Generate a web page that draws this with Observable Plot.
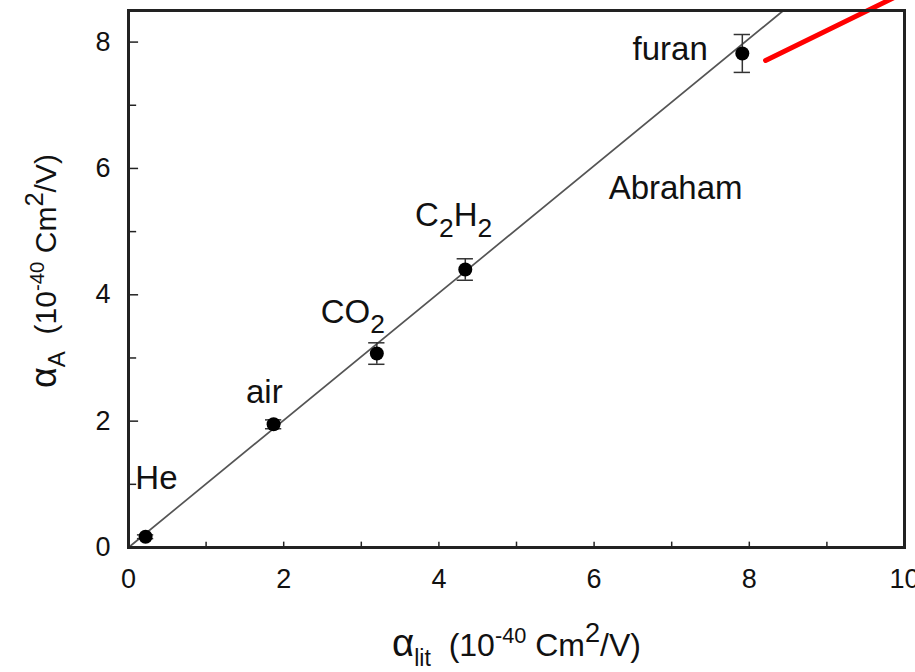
<!DOCTYPE html>
<html><head><meta charset="utf-8">
<script src="https://cdn.jsdelivr.net/npm/d3@7"></script>
<script src="https://cdn.jsdelivr.net/npm/@observablehq/plot@0.6"></script>
<style>
body{margin:0;background:#fff}
svg{font-family:"Liberation Sans",Arial,sans-serif}
</style>
</head><body><div id="chart"></div>
<script>
// measured species
const species = ["He", "air", "CO_{2}", "C_{2}H_{2}", "furan"];
const alphaLit = [0.22, 1.87, 3.20, 4.34, 7.91];
const alphaA = [0.17, 1.95, 3.07, 4.40, 7.82];
const alphaErr = [0.03, 0.07, 0.17, 0.17, 0.30];
const labelX = [0.36, 1.75, 2.89, 4.19, 6.98];
const labelY = [0.92, 2.29, 3.56, 5.09, 7.71];
// Abraham fit line
const fitX = [0, 8.44];
const fitY = [0, 8.5];
const fitName = ["Abraham"];
const fitNameX = [7.05];
const fitNameY = [5.52];
// red pointer
const pointerX = [8.21, 9.86];
const pointerY = [7.71, 8.70];
// ticks
const xMajor = [0, 2, 4, 6, 8, 10];
const xMinor = [1, 3, 5, 7, 9];
const yMajor = [0, 2, 4, 6, 8];
const yMinor = [1, 3, 5, 7];
const xTitle = ["α_{lit}  (10^{-40} Cm^{2}/V)"];
const yTitle = ["α_{A}  (10^{-40} Cm^{2}/V)"];

const pts = species.map((s, i) => ({s, x: alphaLit[i], y: alphaA[i], e: alphaErr[i], lx: labelX[i], ly: labelY[i]}));
const fit = fitX.map((x, i) => ({x, y: fitY[i]}));
const ptr = pointerX.map((x, i) => ({x, y: pointerY[i]}));
const capHalf = 0.105;

const plot = Plot.plot({
  width: 915, height: 672,
  marginLeft: 128, marginRight: 11, marginTop: 10, marginBottom: 125,
  x: {domain: [0, 10]},
  y: {domain: [0, 8.5]},
  style: {fontFamily: '"Liberation Sans", Arial, sans-serif', background: "#fff", overflow: "visible"},
  marks: [
    Plot.line(fit, {x: "x", y: "y", stroke: "#555", strokeWidth: 1.7}),
    Plot.ruleX(pts, {x: "x", y1: d => d.y - d.e, y2: d => d.y + d.e, stroke: "#333", strokeWidth: 1.5}),
    Plot.ruleY(pts, {y: d => d.y + d.e, x1: d => d.x - capHalf, x2: d => d.x + capHalf, stroke: "#333", strokeWidth: 1.5}),
    Plot.ruleY(pts, {y: d => d.y - d.e, x1: d => d.x - capHalf, x2: d => d.x + capHalf, stroke: "#333", strokeWidth: 1.5}),
    Plot.dot(pts, {x: "x", y: "y", r: 7, fill: "#000", stroke: "none"}),
    Plot.text(pts, {x: "lx", y: "ly", text: "s", fontSize: 33, lineAnchor: "bottom", textAnchor: "middle", fill: "#111"}),
    Plot.text(fitName, {x: () => fitNameX[0], y: () => fitNameY[0], text: d => d, fontSize: 33, lineAnchor: "bottom", textAnchor: "middle", fill: "#111"}),
    Plot.line(ptr, {x: "x", y: "y", stroke: "#f00", strokeWidth: 5}),
    // inward ticks
    Plot.ruleX(xMajor.concat(xMinor), {x: d => d, y1: 0, y2: 0.085, stroke: "#222", strokeWidth: 1.5}),
    Plot.ruleY(yMajor, {y: d => d, x1: 0, x2: 0.13, stroke: "#222", strokeWidth: 1.5}),
    Plot.ruleY(yMinor, {y: d => d, x1: 0, x2: 0.105, stroke: "#222", strokeWidth: 1.5}),
    Plot.frame({stroke: "#222", strokeWidth: 3}),
    Plot.axisX({ticks: xMajor, tickSize: 0, tickPadding: 21, fontSize: 27, label: null, tickFormat: d => String(d), fill: "#111"}),
    Plot.axisY({ticks: yMajor, tickSize: 0, tickPadding: 18, fontSize: 27, label: null, tickFormat: d => String(d), fill: "#111"}),
    Plot.text(xTitle, {frameAnchor: "bottom", dy: 108, text: d => d, fontSize: 32, lineAnchor: "bottom", textAnchor: "middle", fill: "#111"}),
    Plot.text(yTitle, {frameAnchor: "left", dx: -73, dy: -8, rotate: -90, text: d => d, fontSize: 30, lineAnchor: "bottom", textAnchor: "middle", fill: "#111"})
  ]
});
document.getElementById("chart").appendChild(plot);

// rich text: _{sub} and ^{sup}; enlarged alpha
const NS = "http://www.w3.org/2000/svg";
plot.querySelectorAll("text").forEach(el => {
  const str = el.textContent;
  if (!/[_^]\{/.test(str)) return;
  const fs = parseFloat(getComputedStyle(el).fontSize) || 28;
  const parts = str.split(/(_\{[^}]*\}|\^\{[^}]*\}|α)/).filter(s => s);
  el.textContent = "";
  el.setAttribute("xml:space", "preserve");
  el.style.whiteSpace = "pre";
  let shift = 0;
  for (const p of parts) {
    let kind = "n", s = p;
    if (p.startsWith("_{")) { kind = "sub"; s = p.slice(2, -1); }
    else if (p.startsWith("^{")) { kind = "sup"; s = p.slice(2, -1); }
    else if (p === "α") { kind = "alpha"; }
    const ts = document.createElementNS(NS, "tspan");
    let target = 0, size = fs;
    if (kind === "sub") { target = fs * 0.33; size = (s.length > 1 && /[a-z]/.test(s)) ? fs * 0.72 : fs * 0.8; }
    if (kind === "sup") { target = -fs * (s.length > 1 ? 0.38 : 0.42); size = s.length > 1 ? fs * 0.68 : fs * 0.85; }
    if (kind === "alpha") { size = fs * 1.2; }
    if (target !== shift) ts.setAttribute("dy", String(target - shift));
    shift = target;
    if (size !== fs) ts.setAttribute("font-size", size);
    ts.textContent = s;
    el.appendChild(ts);
  }
});
</script>
</body></html>
